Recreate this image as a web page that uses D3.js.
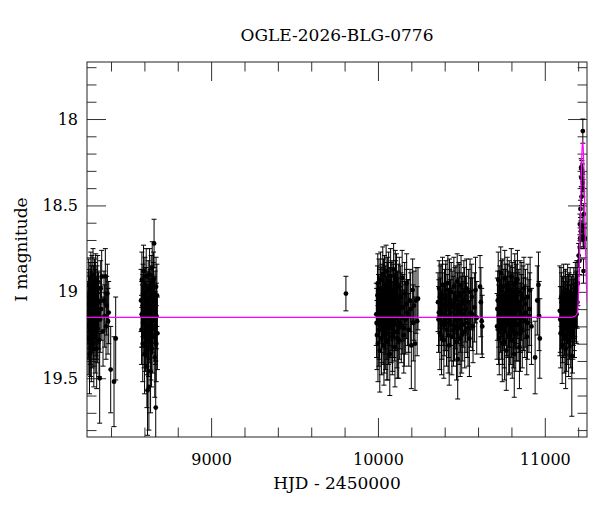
<!DOCTYPE html>
<meta charset="utf-8">
<head>
  <style>
    body { margin: 0; background: #fff; }
    text { font-family: "DejaVu Serif", serif; fill: #000; }
    .title, .axis-label { font-size: 17px; }
  </style>
  <script src="https://cdn.jsdelivr.net/npm/d3@7"></script>
</head>
<body>
  <div id="viz"></div>
</body>
<script>
// photometry: [HJD - 2450000, I mag, sigma], one array per season
var season1 = [
  [8261,19.12,.18],[8263,19.27,.21],[8265,19.03,.16],[8266,18.96,.15],[8268,19.19,.19],
  [8270,19.08,.17],[8271,19.36,.23],[8273,19.14,.18],[8274,18.99,.16],[8276,19.22,.20],
  [8277,19.05,.17],[8279,18.92,.15],[8281,19.17,.19],[8282,19.30,.22],[8284,19.10,.18],
  [8286,18.95,.16],[8287,19.24,.20],[8289,19.07,.17],[8291,19.13,.18],[8292,18.90,.15],
  [8294,19.20,.19],[8296,19.02,.17],[8297,19.33,.22],[8299,19.11,.18],[8301,18.97,.16],
  [8303,19.15,.19],[8305,19.26,.21],[8306,19.04,.17],[8308,18.93,.15],[8310,19.18,.19],
  [8312,19.09,.18],[8314,19.33,.23],[8316,19.01,.16],[8318,19.21,.20],[8320,18.94,.15],
  [8322,19.12,.18],[8325,19.06,.17],[8328,19.28,.21],[8332,19.50,.26],[8335,19.16,.19],
  [8338,18.98,.16],[8341,19.10,.18],[8344,18.91,.15],[8352,19.23,.20],[8358,19.05,.17],
  [8362,19.14,.18],[8366,18.91,.16],[8370,19.20,.19],[8374,19.08,.17],[8378,19.01,.17],
  [8382,19.17,.19],[8386,19.12,.18],[8398,19.45,.25],[8418,19.52,.26],[8428,19.27,.24],
  [8262,19.20,.19],[8267,19.06,.17],[8272,19.15,.18],[8278,19.28,.21],[8283,19.02,.17],
  [8288,19.16,.19],[8293,19.09,.18],[8298,19.23,.20],[8304,18.99,.16],[8309,19.12,.18],
  [8315,19.19,.20],[8321,19.05,.17],[8327,19.14,.19]
];
var season2 = [
  [8580,19.05,.18],[8583,19.22,.20],[8585,18.93,.16],[8588,19.14,.18],[8590,19.30,.22],
  [8592,19.01,.17],[8595,18.88,.15],[8597,19.18,.19],[8599,19.09,.18],[8601,19.36,.23],
  [8603,18.96,.16],[8605,19.12,.18],[8607,19.25,.21],[8609,19.03,.17],[8611,18.91,.16],
  [8613,19.19,.19],[8615,19.43,.24],[8617,19.07,.18],[8619,19.57,.26],[8621,19.15,.19],
  [8623,18.98,.16],[8625,19.28,.21],[8627,19.55,.25],[8629,19.10,.18],[8631,18.90,.15],
  [8633,19.21,.20],[8635,19.04,.17],[8637,19.46,.24],[8639,19.13,.19],[8641,18.95,.16],
  [8643,19.33,.22],[8645,19.08,.18],[8647,18.86,.15],[8649,19.17,.19],[8651,19.26,.21],
  [8653,19.00,.17],[8655,18.93,.16],[8658,18.72,.14],[8660,19.11,.19],[8662,19.38,.23],
  [8664,19.06,.18],[8666,19.20,.20],[8668,19.67,.27],[8670,18.97,.17],[8672,19.14,.19],
  [8675,19.02,.18],[8678,19.24,.21],
  [8584,19.13,.19],[8591,19.08,.18],[8598,19.24,.20],[8604,19.03,.17],[8610,19.15,.19],
  [8616,19.27,.21],[8622,19.06,.18],[8628,19.19,.20],[8634,19.12,.19],[8640,19.29,.22],
  [8646,19.02,.17],[8652,19.16,.19],[8659,19.09,.18],[8665,19.22,.20],[8671,19.30,.22]
];
var season3 = [
  [9808,19.01,.10]
];
var season4 = [
  [9990,19.13,.18],[9994,19.25,.20],[9997,19.02,.17],[10000,19.30,.22],[10003,19.08,.18],
  [10006,18.98,.17],[10008,19.19,.20],[10011,19.34,.24],[10014,19.05,.18],[10016,18.93,.16],
  [10019,19.16,.19],[10021,19.27,.21],[10024,19.01,.17],[10026,19.11,.19],[10029,18.90,.16],
  [10031,19.22,.20],[10034,19.07,.18],[10036,19.31,.23],[10039,18.96,.17],[10041,19.14,.19],
  [10044,19.03,.18],[10046,19.24,.21],[10049,18.88,.15],[10051,19.10,.19],[10054,19.19,.20],
  [10056,19.00,.17],[10059,19.29,.22],[10061,19.06,.18],[10064,18.94,.17],[10066,19.17,.20],
  [10069,19.12,.19],[10071,19.36,.24],[10074,19.04,.18],[10076,18.91,.16],[10079,19.21,.20],
  [10081,19.09,.19],[10084,18.99,.17],[10086,19.26,.22],[10089,19.13,.19],[10091,19.02,.18],
  [10094,18.87,.15],[10096,19.18,.20],[10099,19.08,.19],[10102,19.32,.23],[10105,19.00,.18],
  [10108,19.15,.19],[10111,18.95,.17],[10114,19.23,.21],[10117,19.06,.18],[10120,19.11,.19],
  [10124,19.28,.22],[10128,18.97,.17],[10132,19.14,.19],[10136,19.03,.18],[10140,19.20,.21],
  [10145,18.92,.16],[10150,19.09,.19],[10155,19.25,.22],[10160,19.01,.18],[10166,19.16,.20],
  [10172,18.95,.17],[10178,19.12,.19],[10185,19.22,.21],[10192,19.05,.18],[10200,19.31,.25],
  [10208,18.99,.18],[10216,19.08,.20],[10222,19.30,.27],[10228,19.05,.19],[10235,19.17,.20],
  [10240,19.04,.18],
  [9992,19.18,.20],[9999,18.95,.17],[10005,19.22,.21],[10012,19.10,.19],[10018,19.04,.18],
  [10023,19.20,.21],[10028,19.13,.19],[10033,18.99,.18],[10038,19.25,.22],[10043,19.16,.20],
  [10048,19.06,.19],[10053,19.28,.23],[10058,18.97,.17],[10063,19.21,.21],[10068,19.05,.19],
  [10073,19.18,.20],[10078,19.01,.18],[10083,19.14,.20],[10088,19.24,.22],[10093,19.07,.19],
  [10098,19.19,.21],[10104,18.93,.17],[10110,19.13,.20],[10116,19.27,.23],[10122,19.03,.19],
  [10130,19.18,.21],[10138,19.09,.20],[10148,19.15,.21],[10158,19.21,.22],[10170,19.07,.20],
  [10182,19.14,.21],[10196,19.10,.21],[10212,19.18,.22]
];
var season5 = [
  [10360,19.06,.17],[10363,19.16,.19],[10367,18.98,.16],[10371,19.24,.21],[10375,19.10,.18],
  [10379,19.01,.17],[10383,19.19,.20],[10387,18.96,.16],[10391,19.13,.18],[10395,19.28,.22],
  [10399,19.04,.17],[10403,19.15,.19],[10407,18.99,.17],[10411,19.22,.21],[10415,19.08,.18],
  [10419,18.95,.16],[10423,19.18,.20],[10427,19.31,.23],[10431,19.05,.18],[10435,19.12,.19],
  [10439,19.00,.17],[10443,19.26,.22],[10451,19.09,.18],[10455,18.97,.17],[10459,19.20,.20],
  [10463,19.14,.19],[10467,19.03,.18],[10471,19.29,.22],[10475,18.94,.16],[10478,19.39,.23],
  [10482,19.11,.19],[10486,19.21,.21],[10490,19.02,.18],[10494,19.16,.19],[10498,18.96,.17],
  [10502,19.25,.22],[10506,19.07,.18],[10510,19.13,.19],[10515,19.00,.18],[10520,19.23,.21],
  [10525,19.10,.19],[10530,18.98,.17],[10536,19.18,.20],[10542,19.06,.19],[10548,19.27,.22],
  [10555,19.12,.20],[10562,19.03,.19],[10570,19.20,.21],[10578,19.09,.20],[10585,18.99,.19],
  [10592,19.15,.21],[10612,18.97,.18],[10617,19.06,.20],[10622,19.17,.19],[10625,19.20,.18],
  [10365,19.12,.19],[10373,19.03,.18],[10381,19.26,.22],[10389,19.08,.19],[10397,19.17,.20],
  [10405,19.02,.18],[10413,19.14,.20],[10421,19.25,.22],[10429,18.99,.18],[10437,19.19,.21],
  [10445,19.07,.19],[10453,19.22,.21],[10461,19.05,.19],[10469,19.16,.20],[10477,19.08,.19],
  [10485,19.01,.18],[10493,19.27,.22],[10500,19.11,.20],[10508,19.19,.21],[10518,19.05,.19],
  [10528,19.15,.20],[10540,19.21,.22],[10552,19.00,.19],[10566,19.13,.21]
];
var season6 = [
  [10714,19.20,.19],[10718,19.05,.17],[10721,18.93,.16],[10724,19.14,.18],[10727,19.27,.21],
  [10730,19.02,.17],[10733,19.11,.18],[10736,18.89,.15],[10739,19.19,.20],[10742,19.08,.18],
  [10745,19.30,.22],[10748,18.97,.16],[10751,19.15,.19],[10754,19.04,.17],[10757,19.23,.21],
  [10760,18.92,.16],[10763,19.12,.19],[10766,19.01,.17],[10769,19.34,.23],[10772,19.09,.18],
  [10775,18.96,.16],[10778,19.18,.20],[10781,19.06,.18],[10784,19.26,.22],[10787,18.99,.17],
  [10790,19.13,.19],[10793,19.03,.18],[10796,19.21,.21],[10799,18.91,.16],[10802,19.10,.19],
  [10805,19.28,.22],[10808,19.00,.17],[10811,19.16,.20],[10814,19.07,.18],[10817,19.36,.25],
  [10820,18.95,.17],[10823,19.14,.19],[10826,19.24,.22],[10829,19.02,.18],[10832,19.11,.19],
  [10836,18.93,.17],[10840,19.19,.21],[10844,19.06,.19],[10848,19.32,.24],[10852,19.00,.18],
  [10856,19.15,.20],[10860,19.09,.19],[10865,19.22,.22],[10870,19.04,.19],[10875,18.98,.18],
  [10880,19.17,.21],[10886,19.12,.20],[10892,19.26,.22],[10898,19.03,.19],[10905,19.14,.21],
  [10912,18.99,.19],[10920,19.20,.22],[10942,19.38,.21],[10955,19.05,.20],[10962,18.96,.19],
  [10966,19.14,.20],[10970,19.27,.23],
  [10716,19.10,.18],[10723,19.22,.20],[10729,19.06,.18],[10735,19.16,.19],[10741,19.00,.18],
  [10747,19.21,.21],[10753,19.11,.19],[10759,19.29,.22],[10765,19.05,.18],[10771,19.17,.20],
  [10777,19.02,.18],[10783,19.13,.19],[10789,19.25,.22],[10795,19.08,.19],[10801,19.18,.20],
  [10807,19.04,.18],[10813,19.23,.21],[10819,19.12,.20],[10825,19.00,.18],[10831,19.19,.21],
  [10838,19.08,.19],[10846,19.15,.20],[10854,19.24,.22],[10862,19.02,.19],[10872,19.13,.21],
  [10884,19.07,.20],[10896,19.18,.21],[10910,19.10,.21]
];
var season7 = [
  [11090,19.11,.26],[11095,19.24,.20],[11098,19.03,.17],[11101,19.15,.18],[11104,19.31,.22],
  [11107,19.08,.17],[11110,19.19,.19],[11113,19.00,.16],[11116,19.26,.21],[11119,19.12,.18],
  [11122,19.05,.17],[11125,19.33,.23],[11128,19.17,.19],[11131,19.09,.18],[11134,19.22,.20],
  [11137,19.01,.17],[11140,19.14,.18],[11143,19.28,.21],[11146,19.06,.17],[11149,19.18,.19],
  [11152,19.03,.17],[11155,19.24,.20],[11158,19.11,.18],[11162,19.37,.35],[11165,19.07,.17],
  [11168,19.20,.19],[11171,19.13,.18],[11174,19.02,.16],[11177,19.16,.18],[11180,19.09,.17],
  [11183,18.98,.15],[11186,19.12,.17],[11189,19.04,.16],[11192,18.96,.14],[11195,19.06,.15],
  [11198,18.95,.13],
  [11093,19.16,.19],[11100,19.06,.17],[11106,19.21,.20],[11112,19.10,.18],[11118,19.18,.19],
  [11124,19.04,.17],[11130,19.25,.21],[11136,19.12,.18],[11142,19.07,.17],[11148,19.20,.19],
  [11154,19.14,.18],[11160,19.08,.17],[11166,19.26,.21],[11172,19.10,.17],[11178,19.19,.19],
  [11184,19.05,.16],[11190,19.13,.17]
];
var season8 = [
  [11203,18.79,.07],[11208,18.82,.08],[11211,18.61,.06],[11212,18.69,.06],[11214,18.52,.05],
  [11216,18.65,.06],[11218,18.28,.05],[11219,18.34,.05],[11220,18.45,.05],[11222,18.29,.05],
  [11224,18.62,.06],[11226,18.31,.05],[11228,18.07,.07],[11228,18.37,.05],[11229,18.40,.05],
  [11230,18.68,.06],[11231,18.69,.06],[11232,18.88,.07],[11234,18.55,.06],[11240,18.69,.06]
];

// fitted model: [HJD - 2450000, I mag]
var modelCurve = [
  [8256,19.148],[11150,19.148],[11180,19.142],[11196,19.12],[11200,19.06],[11204,18.96],
  [11208,18.82],[11212,18.64],[11216,18.44],[11220,18.27],[11224,18.16],[11227,18.13],
  [11230,18.16],[11234,18.27],[11238,18.44],[11242,18.64],[11246,18.82],[11250,18.96],
  [11254,19.06]
];

var xMajor = [9000, 10000, 11000];
var yMajor = [18, 18.5, 19, 19.5];

var width = 600, height = 512;
var plotL = 87, plotR = 587, plotT = 62, plotB = 437;

var svg = d3.select("#viz")
  .append("svg")
    .attr("width", width)
    .attr("height", height);

var x = d3.scaleLinear().domain([8256, 11253]).range([plotL, plotR]);
var y = d3.scaleLinear().domain([17.67, 19.84]).range([plotT, plotB]);

var xMinor = d3.range(8400, 11253, 200).filter(function(v) { return xMajor.indexOf(v) < 0; });
var yMinor = d3.range(177, 199).map(function(v) { return v / 10; })
  .filter(function(v) { return v > 17.67 && v < 19.84 && yMajor.indexOf(v) < 0; });

/* ticks on all four sides, pointing inward */
function drawAxis(axisFn, scale, vals, size, labels, tx, ty) {
  var a = axisFn(scale).tickValues(vals).tickSize(-size).tickPadding(labels ? 9 : 0);
  a.tickFormat(labels ? d3.format("") : "");
  var g = svg.append("g")
    .attr("transform", "translate(" + tx + "," + ty + ")")
    .call(a);
  g.select(".domain").remove();
  g.selectAll("line").attr("stroke", "#333");
  g.selectAll("text").attr("fill", "#000")
    .style("font-family", "DejaVu Serif").style("font-size", "16px");
  if (!labels) g.selectAll("text").remove();
  return g;
}

drawAxis(d3.axisBottom, x, xMajor, 19, true, 0, plotB).selectAll("text").attr("dy", "1.2em");
drawAxis(d3.axisBottom, x, xMinor, 9.5, false, 0, plotB);
drawAxis(d3.axisTop, x, xMajor, 19, false, 0, plotT);
drawAxis(d3.axisTop, x, xMinor, 9.5, false, 0, plotT);
drawAxis(d3.axisLeft, y, yMajor, 19, true, plotL, 0);
drawAxis(d3.axisLeft, y, yMinor, 9.5, false, plotL, 0);
drawAxis(d3.axisRight, y, yMajor, 19, false, plotR, 0);
drawAxis(d3.axisRight, y, yMinor, 9.5, false, plotR, 0);

svg.append("rect")
  .attr("x", plotL).attr("y", plotT)
  .attr("width", plotR - plotL).attr("height", plotB - plotT)
  .attr("fill", "none").attr("stroke", "#222").attr("stroke-width", 1);

svg.append("clipPath").attr("id", "plot-clip")
  .append("rect")
    .attr("x", plotL).attr("y", plotT)
    .attr("width", plotR - plotL).attr("height", plotB - plotT);

var photometry = [].concat(season1, season2, season3, season4, season5, season6, season7, season8);

var plot = svg.append("g").attr("clip-path", "url(#plot-clip)");

var bars = plot.append("g").attr("stroke", "#000").attr("stroke-width", 1);
var capHalf = 2.5;

bars.selectAll(".err")
  .data(photometry)
  .enter()
  .append("path")
    .attr("fill", "none")
    .attr("d", function(d) {
      var cx = x(d[0]), y0 = y(d[1] - d[2]), y1 = y(d[1] + d[2]);
      return "M" + cx + "," + y0 + "V" + y1 +
             "M" + (cx - capHalf) + "," + y0 + "H" + (cx + capHalf) +
             "M" + (cx - capHalf) + "," + y1 + "H" + (cx + capHalf);
    });

plot.selectAll(".pt")
  .data(photometry)
  .enter()
  .append("circle")
    .attr("cx", function(d) { return x(d[0]); })
    .attr("cy", function(d) { return y(d[1]); })
    .attr("r", 2.4)
    .attr("fill", "#000");

var line = d3.line()
  .x(function(d) { return x(d[0]); })
  .y(function(d) { return y(d[1]); })
  .curve(d3.curveMonotoneX);

plot.append("path")
  .datum(modelCurve)
  .attr("d", line)
  .attr("fill", "none")
  .attr("stroke", "#ff00ff")
  .attr("stroke-width", 1.2);

svg.append("text")
  .attr("class", "title")
  .attr("x", (plotL + plotR) / 2)
  .attr("y", 41)
  .attr("text-anchor", "middle")
  .text("OGLE-2026-BLG-0776");

svg.append("text")
  .attr("class", "axis-label")
  .attr("x", (plotL + plotR) / 2)
  .attr("y", 489)
  .attr("text-anchor", "middle")
  .text("HJD - 2450000");

svg.append("text")
  .attr("class", "axis-label")
  .attr("transform", "translate(27," + ((plotT + plotB) / 2) + ") rotate(-90)")
  .attr("text-anchor", "middle")
  .text("I magnitude");
</script>
